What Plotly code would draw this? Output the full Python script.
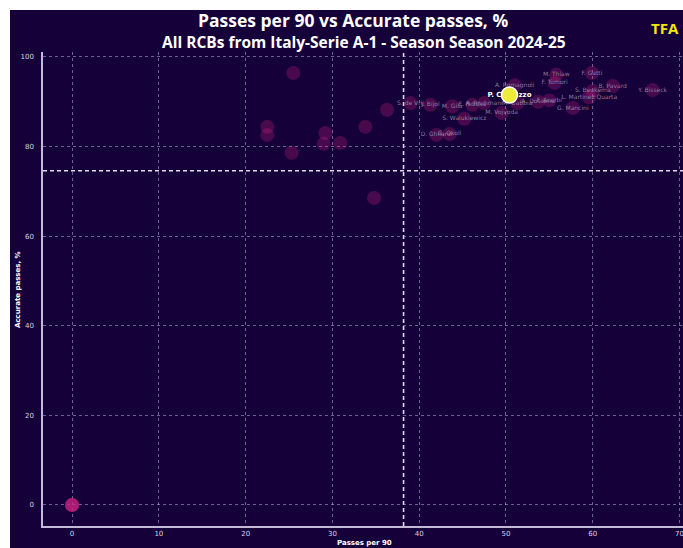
import plotly.graph_objects as go

# ---- data ----
names = [
    "", "", "", "", "",
    "", "", "", "", "", "", "", "", "", "",
    "S. de Vrij", "J. Bijol", "M. Gila", "E. Ndicka", "A. Rrahmani",
    "A. Romagnoli", "M. Gabbia", "A. Dossena", "F. Acerbi",
    "M. Thiaw", "F. Tomori", "F. Gatti", "B. Pavard", "Y. Bisseck",
    "S. Beukema", "L. Martinez Quarta", "G. Mancini",
    "M. Vojvoda", "S. Walukiewicz", "D. Ghilardi", "G. Okoli",
]
passes_per_90 = [
    0.0, 0.0, 0.0, 0.0, 0.0,
    25.5, 22.5, 22.5, 29.2, 29.0, 30.9, 25.3, 33.8, 34.8, 36.3,
    39.0, 41.3, 43.8, 46.1, 47.5,
    51.0, 51.3, 53.7, 55.0,
    55.8, 55.6, 59.9, 62.3, 66.9,
    60.0, 59.6, 57.7,
    49.5, 45.2, 42.0, 43.5,
]
accurate_pct = [
    0.0, 0.0, 0.0, 0.0, 0.0,
    96.4, 84.4, 82.6, 83.0, 80.6, 80.8, 78.6, 84.4, 68.5, 88.2,
    89.7, 89.3, 89.0, 89.3, 89.7,
    93.7, 89.7, 90.0, 90.3,
    96.0, 94.2, 96.4, 93.5, 92.6,
    92.4, 91.0, 88.6,
    87.5, 86.2, 82.6, 82.8,
]

highlight_name = "P. Comuzzo"
highlight_x = [50.4]
highlight_y = [91.5]

avg_passes = 38.2
avg_accuracy = 74.6

x_ticks = [0, 10, 20, 30, 40, 50, 60, 70]
y_ticks = [0, 20, 40, 60, 80, 100]

title = "Passes per 90 vs Accurate passes, %"
subtitle = "All RCBs from Italy-Serie A-1 - Season Season 2024-25"
x_title = "Passes per 90"
y_title = "Accurate passes, %"

# ---- styling ----
BG = "#16003a"
GRID = "rgba(190,175,220,0.55)"
FONT = "Open Sans"
MEAN_LINE = dict(color="rgba(235,230,245,0.95)", width=1.6, dash="4px,3px")

L, T, B = 43, 52, 22
W, H = 683, 548
pw, ph = W - L, H - T - B


def px_x(px):
    return (px - L) / pw


def px_y(py):
    return (H - B - py) / ph


fig = go.Figure()

# dark card behind everything (added first so other shapes sit on top)
fig.add_shape(type="rect", xref="paper", yref="paper",
              x0=px_x(10), x1=px_x(W), y0=px_y(H), y1=px_y(10),
              fillcolor=BG, line=dict(width=0), layer="below")

# mean lines
fig.add_shape(type="line", xref="x", yref="paper", x0=avg_passes, x1=avg_passes,
              y0=0, y1=1, line=MEAN_LINE, layer="below")
fig.add_shape(type="line", xref="paper", yref="y", x0=0, x1=1,
              y0=avg_accuracy, y1=avg_accuracy, line=MEAN_LINE, layer="below")

# other players' bubbles
fig.add_trace(go.Scatter(
    x=passes_per_90, y=accurate_pct, mode="markers",
    marker=dict(size=14, color="rgba(205,35,130,0.28)", line=dict(width=0)),
    hoverinfo="skip", showlegend=False,
))
# labels
fig.add_trace(go.Scatter(
    x=passes_per_90, y=accurate_pct, mode="text", text=names,
    textposition="middle center",
    textfont=dict(size=6, color="rgba(150,140,170,0.9)", family="DejaVu Sans"),
    hoverinfo="skip", showlegend=False,
))
# highlighted label
fig.add_trace(go.Scatter(
    x=highlight_x, y=highlight_y, mode="text", text=[highlight_name],
    textposition="middle center",
    textfont=dict(size=7, color="white", family="DejaVu Sans", weight="bold"),
    hoverinfo="skip", showlegend=False,
))
# highlighted bubble
fig.add_trace(go.Scatter(
    x=highlight_x, y=highlight_y, mode="markers",
    marker=dict(size=16, color="#eeea3a", line=dict(width=1.5, color="white")),
    hoverinfo="skip", showlegend=False,
))

fig.update_layout(
    width=W, height=H,
    margin=dict(l=L, r=0, t=T, b=B, pad=0),
    paper_bgcolor="white", plot_bgcolor=BG,
    showlegend=False,
    font=dict(family=FONT, color="white"),
    annotations=[
        dict(text=f"<b>{title}</b>", x=px_x(353), y=px_y(20), xref="paper", yref="paper",
             showarrow=False, font=dict(size=17.5, color="white", family=FONT),
             xanchor="center", yanchor="middle"),
        dict(text=f"<b>{subtitle}</b>", x=px_x(364), y=px_y(42), xref="paper", yref="paper",
             showarrow=False, font=dict(size=15.5, color="white", family=FONT),
             xanchor="center", yanchor="middle"),
        dict(text="<b>TFA</b>", x=px_x(681), y=px_y(28), xref="paper", yref="paper",
             showarrow=False, font=dict(size=15, color="#f4e60c", family=FONT),
             xanchor="right", yanchor="middle"),
        dict(text=f"<b>{x_title}</b>", x=px_x(364), y=px_y(543),
             xref="paper", yref="paper", showarrow=False,
             font=dict(size=7, color="white", family="DejaVu Sans"),
             xanchor="center", yanchor="middle"),
        dict(text=f"<b>{y_title}</b>", x=px_x(18), y=px_y(290),
             xref="paper", yref="paper", showarrow=False, textangle=-90,
             font=dict(size=7, color="white", family="DejaVu Sans"),
             xanchor="center", yanchor="middle"),
    ],
)
fig.update_xaxes(
    range=[-3.35, 70.4], tickvals=x_ticks, ticktext=[str(v) for v in x_ticks],
    showgrid=True, gridcolor=GRID, gridwidth=0.8, griddash="dot",
    zeroline=False, showline=True, linecolor="rgba(215,205,235,0.9)", linewidth=1.5,
    ticks="", ticklabeloverflow="allow",
    tickfont=dict(size=7, color="#d8d2e4", family="DejaVu Sans"),
)
fig.update_yaxes(
    range=[-4.69, 101.1], tickvals=y_ticks, ticktext=[str(v) for v in y_ticks],
    showgrid=True, gridcolor=GRID, gridwidth=0.8, griddash="dot",
    zeroline=False, showline=True, linecolor="rgba(215,205,235,0.9)", linewidth=1.5,
    ticks="", ticklabelstandoff=6, tickfont=dict(size=7, color="#d8d2e4", family="DejaVu Sans"),
)

fig.write_html(
    "out.html",
    config={"displayModeBar": False},
    post_script="document.body.style.margin='0';document.body.style.overflow='hidden';",
)
